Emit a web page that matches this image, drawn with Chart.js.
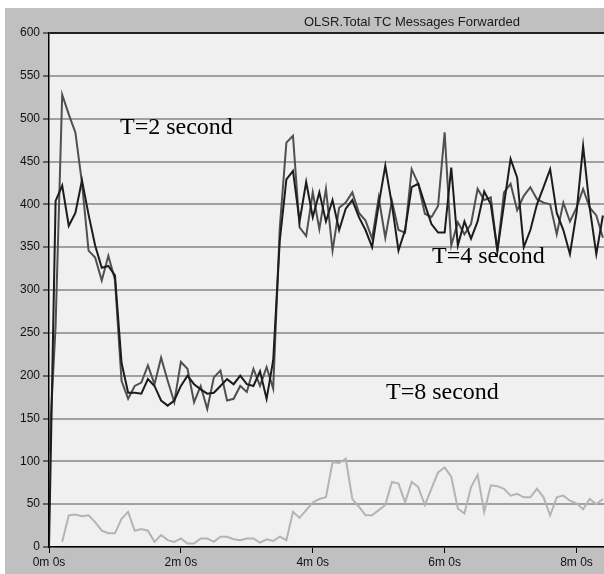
<!DOCTYPE html>
<html>
<head>
<meta charset="utf-8">
<script src="https://cdn.jsdelivr.net/npm/chart.js@4"></script>
<style>
  html, body { margin: 0; padding: 0; background: #ffffff; }
  #wrap { position: relative; width: 604px; height: 574px; }
</style>
</head>
<body>
<div id="wrap"><canvas id="olsrChart" width="604" height="574"></canvas></div>
<script>
// sample times in seconds
var times = [0, 6, 12, 18, 24, 30, 36, 42, 48, 54, 60, 66, 72, 78, 84, 90, 96, 102, 108, 114,
    120, 126, 132, 138, 144, 150, 156, 162, 168, 174, 180, 186, 192, 198, 204, 210, 216, 222, 228, 234,
    240, 246, 252, 258, 264, 270, 276, 282, 288, 294, 300, 306, 312, 318, 324, 330, 336, 342, 348, 354,
    360, 366, 372, 378, 384, 390, 396, 402, 408, 414, 420, 426, 432, 438, 444, 450, 456, 462, 468, 474,
    480, 486, 492, 498, 504];

// T=2 second (dark grey)
var t2Values = [110, 258, 528, 505, 484, 425, 346, 338, 311, 340, 312, 194, 173, 188, 192, 212, 190, 221, 194, 169,
    216, 208, 169, 188, 161, 198, 206, 171, 173, 188, 181, 208, 188, 210, 185, 373, 472, 480, 373, 363,
    414, 371, 418, 346, 396, 402, 414, 390, 381, 360, 408, 361, 404, 370, 367, 441, 424, 389, 385, 398,
    484, 352, 379, 365, 377, 418, 405, 408, 346, 414, 424, 393, 410, 420, 406, 402, 400, 365, 402, 380,
    396, 418, 396, 387, 361];

// T=4 second (black)
var t4Values = [0, 404, 422, 375, 390, 428, 388, 352, 326, 328, 317, 215, 180, 180, 179, 196, 188, 171, 165, 171,
    188, 200, 190, 184, 179, 180, 188, 196, 190, 200, 190, 188, 205, 173, 218, 358, 429, 439, 380, 426,
    385, 414, 380, 405, 370, 395, 405, 385, 370, 350, 400, 445, 400, 346, 370, 420, 424, 400, 377, 367,
    367, 443, 352, 380, 360, 380, 415, 400, 346, 400, 453, 431, 350, 370, 400, 420, 441, 390, 370, 342,
    390, 468, 396, 342, 387];

// T=8 second (light grey)
var t8Values = [null, null, 6, 37, 38, 36, 37, 29, 19, 16, 16, 33, 41, 19, 21, 19, 6, 14, 8, 6,
    10, 4, 4, 10, 10, 6, 12, 12, 9, 8, 10, 10, 5, 9, 7, 12, 8, 41, 34, 43,
    52, 56, 58, 99, 98, 103, 56, 47, 37, 37, 43, 49, 76, 74, 52, 76, 70, 49, 68, 87,
    93, 82, 45, 39, 70, 84, 41, 72, 71, 68, 60, 62, 58, 58, 68, 58, 37, 58, 60, 54,
    51, 44, 56, 50, 56];

var xTicks = [0, 120, 240, 360, 480];
var yMax = 600;
var yStep = 50;

var chartTitle = 'OLSR.Total TC Messages Forwarded';
var notes = ['T=2 second', 'T=4 second', 'T=8 second'];

function points(vals) {
    return times.map(function (t, i) { return { x: t, y: vals[i] }; });
}

function minLabel(v) {
    return Math.floor(v / 60) + 'm ' + (v % 60) + 's';
}

var frame = {
    id: 'frame',
    beforeDraw: function (chart) {
        var c = chart.ctx, a = chart.chartArea;
        c.save();
        c.fillStyle = '#ffffff';
        c.fillRect(0, 0, chart.width, chart.height);
        c.fillStyle = '#c0c0c0';
        c.fillRect(5, 8, chart.width - 5, chart.height - 8);
        c.fillStyle = '#f0f0f0';
        c.fillRect(a.left, a.top, a.right - a.left, a.bottom - a.top);
        c.fillStyle = '#1a1a1a';
        c.font = '13px "Liberation Sans", Arial, sans-serif';
        c.textAlign = 'center';
        c.textBaseline = 'alphabetic';
        c.fillText(chartTitle, 412, 26);
        c.restore();
    },
    beforeDatasetsDraw: function (chart) {
        var c = chart.ctx;
        c.save();
        c.fillStyle = '#000000';
        c.font = '24px "Liberation Serif", "Times New Roman", serif';
        c.textAlign = 'left';
        c.textBaseline = 'alphabetic';
        c.fillText(notes[0], 120, 134);
        c.fillText(notes[1], 432, 263);
        c.fillText(notes[2], 386, 399);
        c.restore();
    }
};

var ctx = document.getElementById('olsrChart');
var myChart = new Chart(ctx, {
    type: 'line',
    data: {
        datasets: [{
            label: notes[1],
            data: points(t4Values),
            borderColor: '#1c1c1c',
            borderWidth: 2,
            pointRadius: 0,
            tension: 0
        }, {
            label: notes[0],
            data: points(t2Values),
            borderColor: '#505050',
            borderWidth: 2,
            pointRadius: 0,
            tension: 0
        }, {
            label: notes[2],
            data: points(t8Values),
            borderColor: '#b4b4b4',
            borderWidth: 2,
            pointRadius: 0,
            tension: 0
        }]
    },
    options: {
        responsive: false,
        animation: false,
        events: [],
        layout: { padding: { left: 0, top: 33, right: 0, bottom: 0 } },
        plugins: {
            legend: { display: false },
            tooltip: { enabled: false }
        },
        scales: {
            x: {
                type: 'linear',
                min: 0,
                max: 505,
                afterFit: function (s) { s.height = 27; },
                afterBuildTicks: function (s) {
                    s.ticks = xTicks.map(function (v) { return { value: v }; });
                },
                border: { color: '#000000', width: 1.5 },
                grid: {
                    drawOnChartArea: false,
                    tickLength: 6,
                    tickColor: '#000000',
                    tickWidth: 1
                },
                ticks: {
                    color: '#111111',
                    padding: 2,
                    maxRotation: 0,
                    font: { family: '"Liberation Sans", Arial, sans-serif', size: 12 },
                    callback: function (v) { return minLabel(v); }
                }
            },
            y: {
                min: 0,
                max: yMax,
                afterFit: function (s) { s.width = 49; },
                border: { color: '#000000', width: 1.5 },
                grid: {
                    color: function (c) { return c.tick && c.tick.value === yMax ? '#202020' : '#a0a0a0'; },
                    lineWidth: 2,
                    tickLength: 6,
                    tickColor: '#000000',
                    tickWidth: 1
                },
                ticks: {
                    stepSize: yStep,
                    color: '#111111',
                    padding: 3,
                    font: { family: '"Liberation Sans", Arial, sans-serif', size: 12 }
                }
            }
        }
    },
    plugins: [frame]
});
</script>
</body>
</html>
